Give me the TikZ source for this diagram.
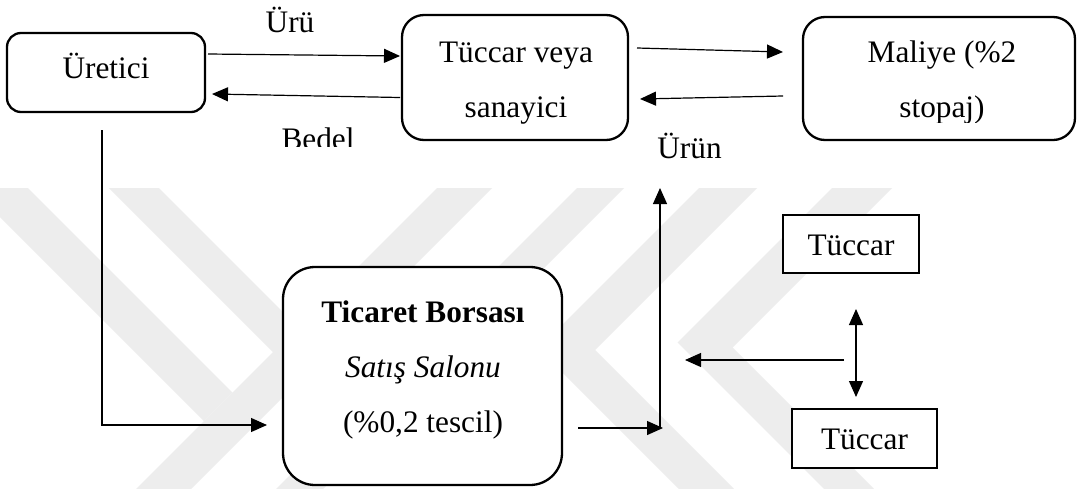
\documentclass[tikz,border=0pt]{standalone}
\usepackage{fontspec}
\setmainfont{Liberation Serif}
\usetikzlibrary{arrows.meta,calc}
\definecolor{wmgray}{RGB}{237,237,237}
\tikzset{
  txt/.style={font=\fontsize{31.3pt}{55pt}\selectfont, inner sep=0pt, outer sep=0pt},
  rbox/.style={draw, line width=2.3pt, fill=white, inner sep=0pt, outer sep=0pt},
  sbox/.style={draw, line width=2.5pt, fill=white, txt},
  conn/.style={line width=1.2pt},
  arr/.style={conn, -{Triangle[length=16pt,width=14pt]}},
  darr/.style={conn, {Triangle[length=16pt,width=14pt]}-{Triangle[length=16pt,width=14pt]}},
  wm/.style={fill=wmgray, draw=none},
}
\begin{document}
\begin{tikzpicture}[x=1pt,y=-1pt]
  \useasboundingbox (0,0) rectangle (1078,488);
  \fill[white] (0,0) rectangle (1078,488);

  % faint background emblem
  \begin{scope}
    \clip (0,188) rectangle (1078,488);
    \fill[wm] (-67,150) -- (-10,150) -- (232.5,392.5) -- (204,421) -- cycle;
    \fill[wm] (71,150) -- (121,150) -- (325.5,354.5) -- (300.5,379.5) -- cycle;
    \fill[wm] (475,150) -- (530,150) -- (180,500) -- (125,500) -- cycle;
    \fill[wm] (615,150) -- (662,150) -- (312,500) -- (265,500) -- cycle;
    \fill[wm] (737,150) -- (795,150) -- (595,350) -- (745,500) -- (690,500) -- (538.5,348.5) -- cycle;
    \fill[wm] (870,150) -- (930,150) -- (732.5,347.5) -- (885,500) -- (835,500) -- (677.5,342.5) -- cycle;
  \end{scope}

  % boxes
  \node[rbox, rounded corners=14pt, minimum width=198pt, minimum height=79pt,
        txt, text height=20pt, text depth=9pt] (ur) at (106,72.5) {Üretici};
  \node[rbox, rounded corners=22pt, minimum width=226pt, minimum height=125pt] (tv) at (515,77.5) {};
  \node[rbox, rounded corners=22pt, minimum width=272pt, minimum height=123pt] (ml) at (939,78.5) {};
  \node[rbox, rounded corners=32pt, minimum width=279pt, minimum height=218pt] (tb) at (422.5,376) {};
  \node[sbox, minimum width=136pt, minimum height=58pt, text height=22pt, text depth=0pt] (tc1) at (851,244) {Tüccar};
  \node[sbox, minimum width=145pt, minimum height=59pt, text height=21pt, text depth=0pt] (tc2) at (864.5,438.5) {Tüccar};

  % box texts (anchored at the baseline of the last line)
  \node[txt, align=center, anchor=base] (tvtext) at (516,117) {Tüccar veya\\sanayici};
  \begin{scope}
    \clip (800,0) rectangle (1078,122);
    \node[txt, align=center, anchor=base] (mltext) at (942,117) {Maliye (\%2\\stopaj)};
  \end{scope}
  \node[txt, align=center, anchor=base] (tbtext) at (423,432)
    {\textbf{Ticaret Borsası}\\\textit{Satış Salonu}\\(\%0,2 tescil)};

  % flow labels
  \node[txt, anchor=base] (lbluru) at (290,32) {Ürü};
  \begin{scope}
    \clip (250,100) rectangle (400,146);
    \node[txt, anchor=base] (lblbedel) at (318,149) {Bedel};
  \end{scope}
  \node[txt, anchor=base] (lblurun) at (689.5,158) {Ürün};

  % free ends
  \coordinate (jn) at (660,428);
  \coordinate (up) at (660,188);
  \coordinate (dx) at (856,360);
  \coordinate (lt) at (685,360);

  % connectors
  \draw[arr] ([xshift=3pt,yshift=18.5pt]ur.east) -- ([xshift=-2pt,yshift=21.5pt]tv.west);
  \draw[arr] ([xshift=-2pt,yshift=-20pt]tv.west) -- ([xshift=7pt,yshift=-21.5pt]ur.east);
  \draw[arr] ([xshift=9pt,yshift=29.5pt]tv.east) -- ([xshift=-20pt,yshift=26.5pt]ml.west);
  \draw[arr] ([xshift=-20pt,yshift=-17.5pt]ml.west) -- ([xshift=12pt,yshift=-21.5pt]tv.east);
  \draw[arr] ([xshift=-4pt,yshift=-18pt]ur.south) |- ([xshift=-16pt,yshift=-49pt]tb.west);
  \draw[arr] ([xshift=16pt,yshift=-52pt]tb.east) -- ([xshift=3pt]jn);
  \draw[arr] (jn) -- (up);
  \draw[arr] ([xshift=-12pt]dx) -- (lt);
  \draw[darr, shorten <=36pt, shorten >=12pt] (tc1.south -| dx) -- (tc2.north -| dx);
\end{tikzpicture}
\end{document}
